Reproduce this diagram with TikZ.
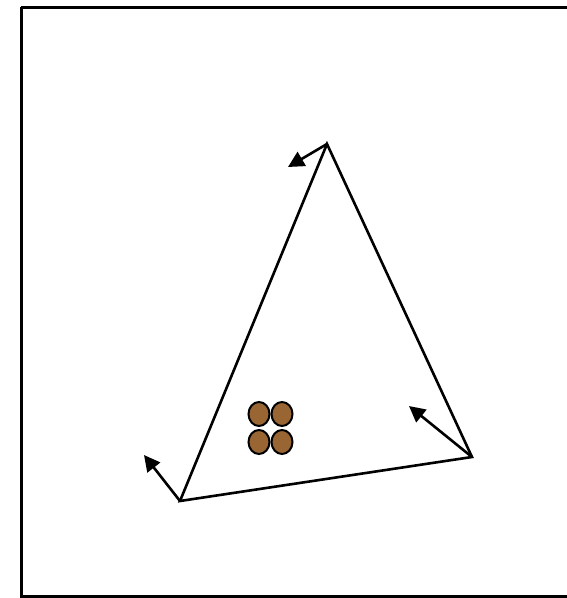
\documentclass[tikz,border=0pt]{standalone}
\usetikzlibrary{arrows.meta,shapes.geometric}
\definecolor{seedbrown}{RGB}{153,102,51}
\begin{document}
\begin{tikzpicture}[x=1pt,y=-1pt,
  edge/.style={line width=2.6pt},
  force/.style={line width=2.6pt,-{Triangle[length=16pt,width=16pt]}},
  seed/.style={ellipse,draw,line width=2pt,fill=seedbrown,minimum width=21pt,minimum height=24pt,inner sep=0pt}]
\useasboundingbox (0,0) rectangle (567,598);
\clip (0,0) rectangle (567,598);
\draw[line width=3pt] (21,7) -- (600,7) (21,7) -- (21,596) -- (600,596);
\coordinate (A) at (327,144);
\coordinate (B) at (180,501);
\coordinate (C) at (472,457);
\coordinate (FA) at (288,167);
\coordinate (FB) at (144,455);
\coordinate (FC) at (409,406);
\draw[edge,line join=miter] (A) -- (B) -- (C) -- cycle;
\draw[force] (A) -- (FA);
\draw[force] (B) -- (FB);
\draw[force] (C) -- (FC);
\node[seed] (s1) at (259,414) {};
\node[seed] (s2) at (282,414) {};
\node[seed] (s3) at (259,442) {};
\node[seed] (s4) at (282,442) {};
\end{tikzpicture}
\end{document}
